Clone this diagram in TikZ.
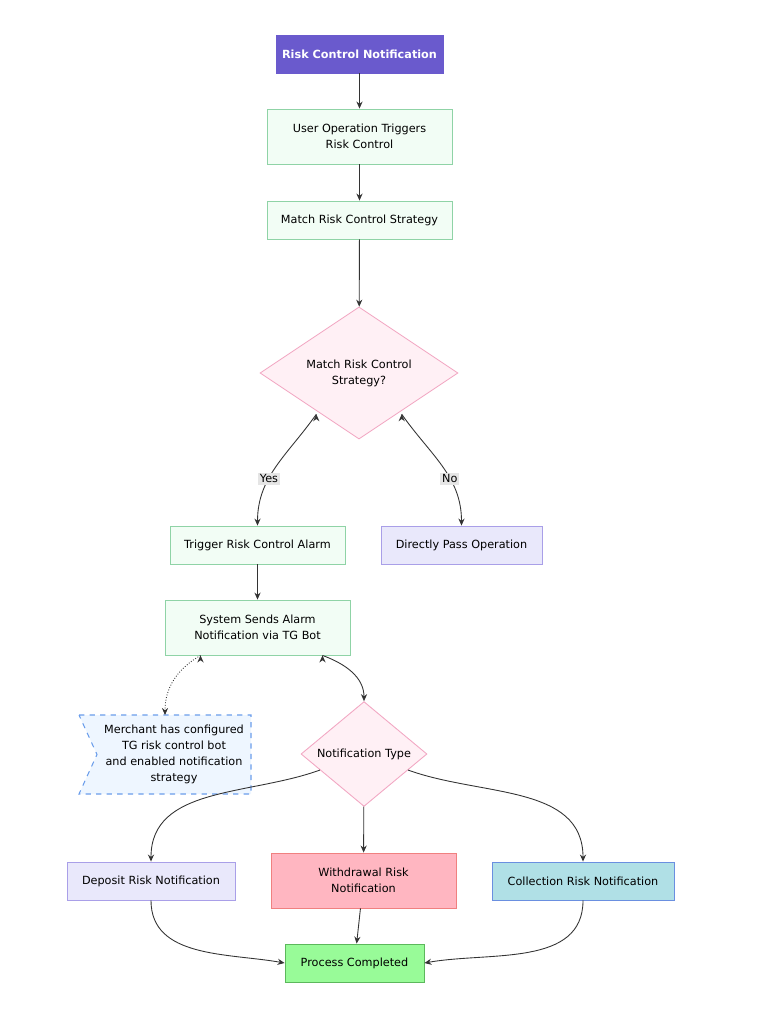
\documentclass[tikz,border=0pt]{standalone}
\usepackage{fontspec}
\setmainfont{DejaVu Sans}
\usetikzlibrary{shapes.geometric,shapes.symbols,arrows.meta}
\definecolor{titleFill}{HTML}{6A5ACD}
\definecolor{stepFill}{HTML}{F2FDF5}
\definecolor{stepLine}{HTML}{8FD3A6}
\definecolor{askFill}{HTML}{FFF0F5}
\definecolor{askLine}{HTML}{F2A7C3}
\definecolor{lavFill}{HTML}{E9E8FB}
\definecolor{lavLine}{HTML}{A99FE8}
\definecolor{noteFill}{HTML}{EEF6FF}
\definecolor{noteLine}{HTML}{6A9DEB}
\definecolor{wdFill}{HTML}{FFB6C1}
\definecolor{wdLine}{HTML}{F08080}
\definecolor{colFill}{HTML}{B0E0E6}
\definecolor{colLine}{HTML}{6A8FE0}
\definecolor{doneFill}{HTML}{98FB98}
\definecolor{doneLine}{HTML}{5CB85C}
\definecolor{edge}{HTML}{333333}
\tikzset{
  every node/.style={font=\fontsize{6.4}{9}\selectfont, align=center, inner sep=0pt},
  box/.style={draw=stepLine, fill=stepFill, line width=0.5pt, rectangle},
  ask/.style={draw=askLine, fill=askFill, line width=0.5pt, diamond, aspect=1},
  flow/.style={draw=edge, line width=0.5pt, -{Stealth[length=4pt,width=3.5pt]}},
  tag/.style={fill=black!10, inner sep=1pt}
}
\begin{document}
\begin{tikzpicture}[x=0.02cm, y=-0.02cm]
  \useasboundingbox (0,0) rectangle (761,1023);
  % header and steps
  \node[box, draw=titleFill, fill=titleFill, text=white, font=\fontsize{6.4}{9}\selectfont\bfseries,
        minimum width=3.34cm, minimum height=0.76cm] (head) at (359.5,54) {Risk Control Notification};
  \node[box, minimum width=3.7cm, minimum height=1.1cm] (trig) at (359.5,136.5) {User Operation Triggers\\Risk Control};
  \node[box, minimum width=3.7cm, minimum height=0.76cm] (match) at (359.5,220) {Match Risk Control Strategy};
  \node[ask, minimum width=3.96cm] (isMatch) at (359,373) {Match Risk Control\\Strategy?};
  \node[box, minimum width=3.5cm, minimum height=0.76cm] (alarm) at (257.5,545) {Trigger Risk Control Alarm};
  \node[box, draw=lavLine, fill=lavFill, minimum width=3.22cm, minimum height=0.76cm] (pass) at (461.5,545) {Directly Pass Operation};
  \node[box, minimum width=3.7cm, minimum height=1.1cm] (send) at (257.5,627.5) {System Sends Alarm\\Notification via TG Bot};
  % note flag
  \draw[noteLine, fill=noteFill, dashed, line width=0.6pt]
    (79,715) -- (251,715) -- (251,794) -- (79,794) -- (97,754.5) -- cycle;
  \node (note) at (174,754.5) {Merchant has configured\\TG risk control bot\\and enabled notification\\strategy};
  \coordinate (noteTop) at (165,715);
  \node[ask, minimum width=2.52cm] (kind) at (364,754) {Notification Type};
  % notification kinds
  \node[box, draw=lavLine, fill=lavFill, minimum width=3.36cm, minimum height=0.76cm] (dep) at (151,881) {Deposit Risk Notification};
  \node[box, draw=wdLine, fill=wdFill, minimum width=3.7cm, minimum height=1.1cm] (wd) at (363.5,880.5) {Withdrawal Risk\\Notification};
  \node[box, draw=colLine, fill=colFill, minimum width=3.64cm, minimum height=0.76cm] (col) at (583,881) {Collection Risk Notification};
  \node[box, draw=doneLine, fill=doneFill, minimum width=2.78cm, minimum height=0.76cm] (done) at (354.5,963) {Process Completed};
  % connectors
  \draw[flow] (head) -- (trig);
  \draw[flow] (trig) -- (match);
  \draw[flow] (match) -- (isMatch);
  \draw[flow] (isMatch.south west) ++(7,8) coordinate (yesOut);
  \draw[flow] (yesOut) to[out=-125, in=90] node[tag, pos=0.62] {Yes} (alarm.north);
  \draw[flow] (isMatch.south east) ++(-7,8) coordinate (noOut);
  \draw[flow] (noOut) to[out=-55, in=90] node[tag, pos=0.62] {No} (pass.north);
  \draw[flow] (alarm) -- (send);
  \draw[flow, dotted] (send.south) ++(-57,0) coordinate (sendL);
  \draw[flow, densely dotted] (sendL) to[out=-150, in=90] (noteTop);
  \draw[flow] (send.south) ++(65,0) coordinate (sendR);
  \draw[flow] (sendR) to[out=-20, in=90] (kind.north);
  \draw[flow] (kind) to[out=-160, in=90] (dep.north);
  \draw[flow] (kind) -- (wd);
  \draw[flow] (kind) to[out=-20, in=90] (col.north);
  \draw[flow] (dep.south) to[out=-90, in=170] (done.west);
  \draw[flow] (wd) -- (done);
  \draw[flow] (col.south) to[out=-90, in=10] (done.east);
\end{tikzpicture}
\end{document}
